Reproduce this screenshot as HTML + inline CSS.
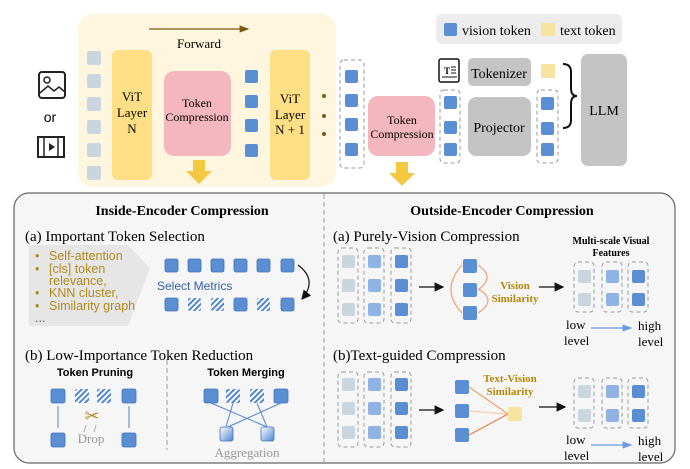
<!DOCTYPE html><html><head><meta charset="utf-8"><style>
html,body{margin:0;padding:0;background:#fff;}
svg{display:block}
.s{font-family:"Liberation Serif",serif}
.a{font-family:"Liberation Sans","DejaVu Sans",sans-serif}
</style></head><body>
<svg width="690" height="469" viewBox="0 0 690 469" xmlns="http://www.w3.org/2000/svg">
<defs>
<pattern id="h" width="4" height="4" patternUnits="userSpaceOnUse" patternTransform="rotate(45)"><rect width="4" height="4" fill="#fff"/><rect width="2" height="4" fill="#4f86d0"/></pattern>
<linearGradient id="g" x1="0" y1="0" x2="1" y2="1"><stop offset="0" stop-color="#fff"/><stop offset="1" stop-color="#4f86d0"/></linearGradient>
<marker id="ar" markerWidth="8" markerHeight="8" refX="7" refY="4" orient="auto"><path d="M0,0 L8,4 L0,8z" fill="#111"/></marker>
<marker id="arb" markerWidth="8" markerHeight="8" refX="7" refY="4" orient="auto"><path d="M0,1 L8,4 L0,7z" fill="#6a9be0"/></marker>
<marker id="arf" markerWidth="8" markerHeight="8" refX="7" refY="4" orient="auto"><path d="M0,1 L8,4 L0,7z" fill="#7a5a10"/></marker>
</defs>
<!-- top -->
<rect x="78" y="14" width="258" height="173" rx="15" fill="#fef6df"/>
<line x1="149" y1="29" x2="248" y2="29" stroke="#7a5a10" stroke-width="1.2" marker-end="url(#arf)"/>
<text x="199" y="48" class="s" font-size="13" text-anchor="middle">Forward</text>
<g fill="#c9d6e0"><rect x="87" y="51" width="14" height="14" rx="2"/><rect x="87" y="74" width="14" height="14" rx="2"/><rect x="87" y="97" width="14" height="14" rx="2"/><rect x="87" y="120" width="14" height="14" rx="2"/><rect x="87" y="143" width="14" height="14" rx="2"/><rect x="87" y="166" width="14" height="14" rx="2"/></g>
<rect x="112" y="50" width="40" height="130" rx="6" fill="#fedf85"/>
<text class="s" font-size="13" text-anchor="middle"><tspan x="132" y="101">ViT</tspan><tspan x="132" y="117">Layer</tspan><tspan x="132" y="133">N</tspan></text>
<rect x="164" y="71" width="67" height="85" rx="10" fill="#f4b6bf"/>
<text class="s" font-size="12" text-anchor="middle"><tspan x="197" y="107">Token</tspan><tspan x="197" y="121">Compression</tspan></text>
<g fill="#5b8fd4"><rect x="245" y="70" width="13" height="13" rx="2"/><rect x="245" y="95" width="13" height="13" rx="2"/><rect x="245" y="119" width="13" height="13" rx="2"/><rect x="245" y="144" width="13" height="13" rx="2"/></g>
<rect x="270" y="50" width="40" height="130" rx="6" fill="#fedf85"/>
<text class="s" font-size="13" text-anchor="middle"><tspan x="290" y="103">ViT</tspan><tspan x="290" y="119">Layer</tspan><tspan x="290" y="134">N + 1</tspan></text>
<g fill="#7a5a10"><circle cx="324" cy="96" r="2"/><circle cx="324" cy="116" r="2"/><circle cx="324" cy="134" r="2"/></g>
<path d="M193,160 h12 v11 h7 l-13,13 l-13,-13 h7z" fill="#f5c842"/>
<path d="M396,162 h12 v11 h7 l-13,13 l-13,-13 h7z" fill="#f5c842"/>
<!-- icons -->
<rect x="39" y="72" width="26" height="26" rx="3" fill="none" stroke="#222" stroke-width="2"/>
<circle cx="47" cy="80" r="3" fill="none" stroke="#222" stroke-width="1.5"/>
<path d="M40,93 l8,-7 l6,5 l5,-4 l6,5" fill="none" stroke="#222" stroke-width="1.5"/>
<text x="50" y="122" class="a" font-size="14" text-anchor="middle">or</text>
<rect x="38" y="137" width="26" height="20" fill="none" stroke="#222" stroke-width="2"/>
<line x1="44" y1="137" x2="44" y2="157" stroke="#222" stroke-width="1.5"/><line x1="58" y1="137" x2="58" y2="157" stroke="#222" stroke-width="1.5"/>
<path d="M49,143 l6,4 l-6,4z" fill="#222"/>
<!-- right top -->
<rect x="436" y="14" width="186" height="30" rx="6" fill="#ececec"/>
<rect x="444" y="23" width="13" height="13" rx="2" fill="#5b8fd4"/>
<text x="462" y="35" class="s" font-size="14">vision token</text>
<rect x="541" y="23" width="14" height="13" fill="#f9e3a0"/>
<text x="560" y="35" class="s" font-size="14">text token</text>
<rect x="340" y="60" width="24" height="108" rx="4" fill="none" stroke="#999" stroke-dasharray="4,3"/>
<g fill="#5b8fd4"><rect x="345" y="70" width="13" height="13" rx="2"/><rect x="345" y="94" width="13" height="13" rx="2"/><rect x="345" y="118" width="13" height="13" rx="2"/><rect x="345" y="143" width="13" height="13" rx="2"/></g>
<rect x="368" y="96" width="67" height="60" rx="10" fill="#f4b6bf"/>
<text class="s" font-size="12" text-anchor="middle"><tspan x="402" y="124">Token</tspan><tspan x="402" y="138">Compression</tspan></text>
<rect x="439" y="59" width="20" height="23" rx="2" fill="none" stroke="#111" stroke-width="1.5"/>
<text x="444" y="74" class="s" font-size="9" font-weight="bold">T</text>
<g stroke="#111"><line x1="451" y1="67" x2="456" y2="67"/><line x1="451" y1="70" x2="456" y2="70"/><line x1="451" y1="73" x2="456" y2="73"/><line x1="442" y1="77" x2="457" y2="77"/></g>
<rect x="440" y="90" width="20" height="73" rx="4" fill="none" stroke="#999" stroke-dasharray="4,3"/>
<g fill="#5b8fd4"><rect x="444" y="96" width="13" height="13" rx="2"/><rect x="444" y="121" width="13" height="13" rx="2"/><rect x="444" y="143" width="13" height="13" rx="2"/></g>
<rect x="468" y="58" width="63" height="28" rx="5" fill="#c4c4c4"/>
<text x="499" y="78" class="s" font-size="14" text-anchor="middle">Tokenizer</text>
<rect x="468" y="97" width="63" height="59" rx="8" fill="#c4c4c4"/>
<text x="499" y="132" class="s" font-size="14" text-anchor="middle">Projector</text>
<rect x="541" y="64" width="14" height="14" fill="#f9e3a0"/>
<rect x="537" y="90" width="21" height="73" rx="4" fill="none" stroke="#999" stroke-dasharray="4,3"/>
<g fill="#5b8fd4"><rect x="541" y="97" width="13" height="13" rx="2"/><rect x="541" y="122" width="13" height="13" rx="2"/><rect x="541" y="143" width="13" height="13" rx="2"/></g>
<path d="M563,64 q8,0 8,8 v16 q0,8 6,8 q-6,0 -6,8 v16 q0,8 -8,8" fill="none" stroke="#111" stroke-width="2"/>
<rect x="581" y="54" width="46" height="112" rx="7" fill="#c4c4c4"/>
<text x="604" y="115" class="s" font-size="14" text-anchor="middle">LLM</text>
<!-- bottom -->
<rect x="14" y="193" width="661" height="270" rx="15" fill="#f6f6f6" stroke="#666" stroke-width="1.2"/>
<line x1="324" y1="194" x2="324" y2="462" stroke="#999" stroke-dasharray="5,3"/>
<text x="182" y="215" class="s" font-size="14" font-weight="bold" text-anchor="middle">Inside-Encoder Compression</text>
<text x="25" y="241" class="s" font-size="15">(a) Important Token Selection</text>
<path d="M29,245 H128 L150,268 L128,326 H29z" fill="#e6e6e6"/>
<g class="a" font-size="12.5" fill="#b08a1e">
<text x="35" y="260">•</text><text x="49" y="260">Self-attention</text>
<text x="35" y="273">•</text><text x="49" y="273">[cls] token</text>
<text x="49" y="285">relevance,</text>
<text x="35" y="297">•</text><text x="49" y="297">KNN cluster,</text>
<text x="35" y="310">•</text><text x="49" y="310">Similarity graph</text>
<text x="35" y="322" fill="#555">...</text></g>
<g fill="#5b8fd4" stroke="#3f70b8" stroke-width="0.8">
<rect x="165" y="259" width="13" height="13" rx="2"/><rect x="188" y="259" width="13" height="13" rx="2"/><rect x="211" y="259" width="13" height="13" rx="2"/><rect x="234" y="259" width="13" height="13" rx="2"/><rect x="257" y="259" width="13" height="13" rx="2"/><rect x="281" y="259" width="13" height="13" rx="2"/>
<rect x="165" y="298" width="13" height="13" rx="2"/><rect x="188" y="298" width="13" height="13" rx="2" fill="url(#h)" stroke="none"/><rect x="211" y="298" width="13" height="13" rx="2" fill="url(#h)" stroke="none"/><rect x="234" y="298" width="13" height="13" rx="2"/><rect x="257" y="298" width="13" height="13" rx="2" fill="url(#h)" stroke="none"/><rect x="281" y="298" width="13" height="13" rx="2"/></g>
<text x="157" y="290" class="a" font-size="12" fill="#2f5fa8">Select Metrics</text>
<path d="M298,265 Q318,280 302,299" fill="none" stroke="#111" stroke-width="1.2" marker-end="url(#ar)"/>
<text x="25" y="360" class="s" font-size="15">(b) Low-Importance Token Reduction</text>
<line x1="167" y1="360" x2="167" y2="450" stroke="#999" stroke-dasharray="5,3"/>
<text x="95" y="376" class="a" font-size="11" font-weight="bold" text-anchor="middle">Token Pruning</text>
<text x="246" y="376" class="a" font-size="11" font-weight="bold" text-anchor="middle">Token Merging</text>
<g fill="#5b8fd4" stroke="#3f70b8" stroke-width="0.8">
<rect x="51" y="389" width="14" height="14" rx="2"/><rect x="75" y="389" width="14" height="14" rx="2" fill="url(#h)" stroke="none"/><rect x="97" y="389" width="14" height="14" rx="2" fill="url(#h)" stroke="none"/><rect x="122" y="389" width="14" height="14" rx="2"/>
<rect x="51" y="433" width="14" height="14" rx="2"/><rect x="122" y="433" width="14" height="14" rx="2"/>
<rect x="204" y="389" width="14" height="14" rx="2"/><rect x="226" y="389" width="14" height="14" rx="2" fill="url(#h)" stroke="none"/><rect x="250" y="389" width="14" height="14" rx="2" fill="url(#h)" stroke="none"/><rect x="274" y="389" width="14" height="14" rx="2"/>
<rect x="220" y="427" width="13" height="14" rx="2" fill="url(#g)"/><rect x="261" y="427" width="13" height="14" rx="2" fill="url(#g)"/></g>
<g stroke="#4f86d0" stroke-width="1"><line x1="58" y1="406" x2="58" y2="428"/><line x1="129" y1="406" x2="129" y2="428"/>
<line x1="211" y1="403" x2="267" y2="427"/><line x1="233" y1="403" x2="226" y2="427"/><line x1="257" y1="403" x2="267" y2="427"/><line x1="281" y1="403" x2="228" y2="427"/></g>
<text x="92" y="422" font-size="18" text-anchor="middle" fill="#b88a20">✂</text>
<g stroke="#bbb" stroke-width="1.2"><line x1="86" y1="425" x2="84" y2="432"/><line x1="96" y1="425" x2="94" y2="432"/></g>
<text x="91" y="443" class="s" font-size="13" fill="#999" text-anchor="middle">Drop</text>
<text x="247" y="457" class="s" font-size="13" fill="#999" text-anchor="middle">Aggregation</text>
<!-- right bottom -->
<text x="502" y="215" class="s" font-size="14" font-weight="bold" text-anchor="middle">Outside-Encoder Compression</text>
<text x="333" y="241" class="s" font-size="15">(a) Purely-Vision Compression</text>
<text x="333" y="360" class="s" font-size="15">(b)Text-guided Compression</text>
<g fill="none" stroke="#999" stroke-dasharray="4,3">
<rect x="338" y="248" width="20" height="75" rx="4"/><rect x="364" y="248" width="20" height="75" rx="4"/><rect x="391" y="248" width="20" height="75" rx="4"/>
<rect x="338" y="372" width="20" height="75" rx="4"/><rect x="364" y="372" width="20" height="75" rx="4"/><rect x="391" y="372" width="20" height="75" rx="4"/>
<rect x="574" y="262" width="20" height="50" rx="4"/><rect x="602" y="262" width="20" height="50" rx="4"/><rect x="628" y="262" width="20" height="50" rx="4"/>
<rect x="574" y="378" width="20" height="50" rx="4"/><rect x="602" y="378" width="20" height="50" rx="4"/><rect x="628" y="378" width="20" height="50" rx="4"/></g>
<g fill="#c9d5df"><rect x="342" y="255" width="13" height="13" rx="2"/><rect x="342" y="279" width="13" height="13" rx="2"/><rect x="342" y="303" width="13" height="13" rx="2"/><rect x="342" y="378" width="13" height="13" rx="2"/><rect x="342" y="402" width="13" height="13" rx="2"/><rect x="342" y="426" width="13" height="13" rx="2"/><rect x="578" y="270" width="13" height="13" rx="2"/><rect x="578" y="293" width="13" height="13" rx="2"/><rect x="578" y="385" width="13" height="13" rx="2"/><rect x="578" y="409" width="13" height="13" rx="2"/></g>
<g fill="#8fb3e3"><rect x="368" y="255" width="13" height="13" rx="2"/><rect x="368" y="279" width="13" height="13" rx="2"/><rect x="368" y="303" width="13" height="13" rx="2"/><rect x="368" y="378" width="13" height="13" rx="2"/><rect x="368" y="402" width="13" height="13" rx="2"/><rect x="368" y="426" width="13" height="13" rx="2"/><rect x="606" y="270" width="13" height="13" rx="2"/><rect x="606" y="293" width="13" height="13" rx="2"/><rect x="606" y="385" width="13" height="13" rx="2"/><rect x="606" y="409" width="13" height="13" rx="2"/></g>
<g fill="#5b8fd4"><rect x="395" y="255" width="13" height="13" rx="2"/><rect x="395" y="279" width="13" height="13" rx="2"/><rect x="395" y="303" width="13" height="13" rx="2"/><rect x="395" y="378" width="13" height="13" rx="2"/><rect x="395" y="402" width="13" height="13" rx="2"/><rect x="395" y="426" width="13" height="13" rx="2"/><rect x="632" y="270" width="13" height="13" rx="2"/><rect x="632" y="293" width="13" height="13" rx="2"/><rect x="632" y="385" width="13" height="13" rx="2"/><rect x="632" y="409" width="13" height="13" rx="2"/>
<rect x="463" y="259" width="14" height="14" rx="2"/><rect x="463" y="283" width="14" height="14" rx="2"/><rect x="463" y="306" width="14" height="14" rx="2"/>
<rect x="455" y="380" width="14" height="14" rx="2"/><rect x="455" y="404" width="14" height="14" rx="2"/><rect x="455" y="428" width="14" height="14" rx="2"/></g>
<g stroke="#111" stroke-width="1.2"><line x1="419" y1="287" x2="443" y2="287" marker-end="url(#ar)"/><line x1="539" y1="287" x2="563" y2="287" marker-end="url(#ar)"/><line x1="419" y1="410" x2="443" y2="410" marker-end="url(#ar)"/><line x1="539" y1="407" x2="565" y2="407" marker-end="url(#ar)"/></g>
<g fill="none" stroke="#f0a070" stroke-width="1.2"><path d="M462,265 Q440,290 462,313"/><path d="M478,265 Q496,277 478,290"/><path d="M478,289 Q498,300 478,313"/></g>
<g class="s" font-size="11" font-weight="bold" fill="#b8860b" text-anchor="middle"><text x="515" y="289">Vision</text><text x="515" y="302">Similarity</text><text x="510" y="382">Text-Vision</text><text x="510" y="395">Similarity</text></g>
<rect x="508" y="407" width="14" height="14" fill="#f9e3a0"/>
<g stroke="#f0a070" stroke-width="1.2"><line x1="469" y1="387" x2="508" y2="414"/><line x1="469" y1="411" x2="508" y2="414" stroke="#f8ccb0"/><line x1="469" y1="435" x2="508" y2="414" stroke="#e88040"/></g>
<g class="s" font-size="10" font-weight="bold" text-anchor="middle"><text x="611" y="244">Multi-scale Visual</text><text x="611" y="256">Features</text></g>
<g class="s" font-size="13"><text x="566" y="329">low</text><text x="564" y="345">level</text><text x="638" y="330">high</text><text x="638" y="346">level</text>
<text x="566" y="444">low</text><text x="564" y="460">level</text><text x="638" y="445">high</text><text x="638" y="461">level</text></g>
<g stroke="#6a9be0" stroke-width="1.2"><line x1="591" y1="328" x2="631" y2="328" marker-end="url(#arb)"/><line x1="591" y1="445" x2="631" y2="445" marker-end="url(#arb)"/></g>
</svg>
</body></html>
